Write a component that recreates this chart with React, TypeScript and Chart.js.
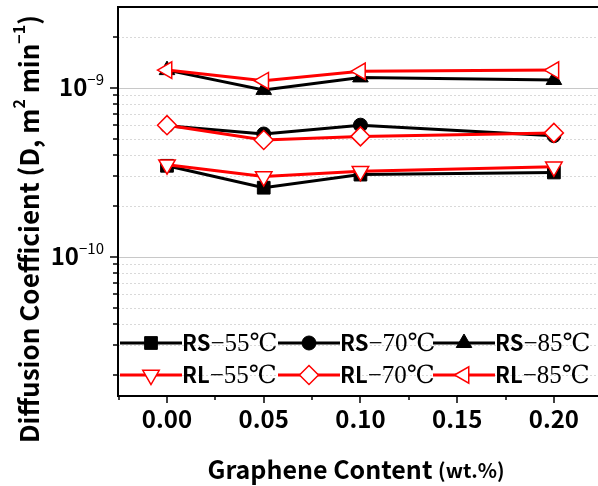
import React, { useEffect, useRef } from 'react';
import { Chart, registerables } from 'chart.js';

Chart.register(...registerables);

// ---- data ----
const xValues = [0, 0.05, 0.1, 0.2];
const rs55 = [3.45e-10, 2.56e-10, 3.06e-10, 3.15e-10];
const rs70 = [5.96e-10, 5.32e-10, 6.0e-10, 5.2e-10];
const rs85 = [1.27e-9, 0.97e-9, 1.15e-9, 1.11e-9];
const rl55 = [3.5e-10, 2.98e-10, 3.2e-10, 3.4e-10];
const rl70 = [6.0e-10, 4.9e-10, 5.15e-10, 5.4e-10];
const rl85 = [1.27e-9, 1.1e-9, 1.25e-9, 1.27e-9];

const seriesNames = ['RS', 'RS', 'RS', 'RL', 'RL', 'RL'];
const seriesTemps = ['−55℃', '−70℃', '−85℃', '−55℃', '−70℃', '−85℃'];

const xMajorTicks = [0, 0.05, 0.1, 0.15, 0.2];
const xMajorLabels = ['0.00', '0.05', '0.10', '0.15', '0.20'];
const xMinorTicks = [-0.025, 0.025, 0.075, 0.125, 0.175, 0.225];
const yMajorTicks = [1e-10, 1e-9];
const yMajorExp = ['−10', '−9'];
const yMinorTicks = [
  2e-11, 3e-11, 4e-11, 5e-11, 6e-11, 7e-11, 8e-11, 9e-11,
  2e-10, 3e-10, 4e-10, 5e-10, 6e-10, 7e-10, 8e-10, 9e-10,
  2e-9,
];

const xMin = -0.02533;
const xMax = 0.2228;
const yMin = 1.5e-11;
const yMax = 3.0e-9;

const xTitleMain = 'Graphene Content ';
const xTitleUnit = '(wt.%)';

const SANS = "'Noto Sans CJK KR', 'Noto Sans', 'DejaVu Sans', sans-serif";
const SERIF = "'Liberation Serif', 'DejaVu Serif', serif";

type Marker = { style: string; rotation: number; radius: number; fill: string; stroke: string; lw: number };

const markers: Marker[] = [
  { style: 'rect', rotation: 0, radius: 9, fill: '#000', stroke: '#000', lw: 1 },
  { style: 'circle', rotation: 0, radius: 7, fill: '#000', stroke: '#000', lw: 1 },
  { style: 'triangle', rotation: 0, radius: 9, fill: '#000', stroke: '#000', lw: 1 },
  { style: 'triangle', rotation: 180, radius: 9.5, fill: '#fff', stroke: '#ff0000', lw: 1.5 },
  { style: 'rectRot', rotation: 0, radius: 9.5, fill: '#fff', stroke: '#ff0000', lw: 1.5 },
  { style: 'triangle', rotation: 270, radius: 9.5, fill: '#fff', stroke: '#ff0000', lw: 1.5 },
];

function drawMarker(ctx: CanvasRenderingContext2D, m: Marker, x: number, y: number) {
  ctx.save();
  ctx.beginPath();
  const r = m.radius;
  if (m.style === 'rect') {
    const s = Math.SQRT1_2 * r;
    ctx.rect(x - s, y - s, 2 * s, 2 * s);
  } else if (m.style === 'circle') {
    ctx.arc(x, y, r, 0, Math.PI * 2);
  } else if (m.style === 'rectRot') {
    ctx.moveTo(x, y - r);
    ctx.lineTo(x + r, y);
    ctx.lineTo(x, y + r);
    ctx.lineTo(x - r, y);
    ctx.closePath();
  } else {
    let rad = (m.rotation * Math.PI) / 180;
    for (let i = 0; i < 3; i++) {
      const px = x + Math.sin(rad) * r;
      const py = y - Math.cos(rad) * r;
      if (i === 0) ctx.moveTo(px, py);
      else ctx.lineTo(px, py);
      rad += (2 * Math.PI) / 3;
    }
    ctx.closePath();
  }
  ctx.fillStyle = m.fill;
  ctx.fill();
  ctx.lineWidth = m.lw;
  ctx.strokeStyle = m.stroke;
  ctx.stroke();
  ctx.restore();
}

const gridPlugin = {
  id: 'customGrid',
  beforeDatasetsDraw(chart: any) {
    const ctx: CanvasRenderingContext2D = chart.ctx;
    const { left, right } = chart.chartArea;
    const y = chart.scales.y;
    ctx.save();
    ctx.lineWidth = 1;
    ctx.strokeStyle = '#d9d9d9';
    ctx.setLineDash([2, 2]);
    yMinorTicks.forEach((v) => {
      const py = Math.round(y.getPixelForValue(v)) + 0.5;
      ctx.beginPath();
      ctx.moveTo(left, py);
      ctx.lineTo(right, py);
      ctx.stroke();
    });
    ctx.setLineDash([]);
    ctx.strokeStyle = '#c8c8c8';
    yMajorTicks.forEach((v) => {
      const py = Math.round(y.getPixelForValue(v)) + 0.5;
      ctx.beginPath();
      ctx.moveTo(left, py);
      ctx.lineTo(right, py);
      ctx.stroke();
    });
    ctx.restore();
  },
};

const axesPlugin = {
  id: 'customAxes',
  afterDraw(chart: any) {
    const ctx: CanvasRenderingContext2D = chart.ctx;
    const { left, right, top, bottom } = chart.chartArea;
    const xs = chart.scales.x;
    const ys = chart.scales.y;
    ctx.save();
    // frame
    ctx.strokeStyle = '#000';
    ctx.lineWidth = 2;
    ctx.beginPath();
    ctx.moveTo(right, top);
    ctx.lineTo(left, top);
    ctx.lineTo(left, bottom);
    ctx.lineTo(right, bottom);
    ctx.stroke();
    ctx.lineWidth = 1.5;
    // x ticks
    xMajorTicks.forEach((v) => {
      const px = Math.round(xs.getPixelForValue(v));
      ctx.beginPath();
      ctx.moveTo(px, bottom);
      ctx.lineTo(px, bottom + 7);
      ctx.stroke();
    });
    xMinorTicks.forEach((v) => {
      const px = Math.round(xs.getPixelForValue(v));
      if (px < left || px > right) return;
      ctx.beginPath();
      ctx.moveTo(px, bottom);
      ctx.lineTo(px, bottom + 4);
      ctx.stroke();
    });
    // y ticks
    yMajorTicks.forEach((v) => {
      const py = Math.round(ys.getPixelForValue(v));
      ctx.beginPath();
      ctx.moveTo(left, py);
      ctx.lineTo(left - 8, py);
      ctx.stroke();
    });
    yMinorTicks.forEach((v) => {
      const py = Math.round(ys.getPixelForValue(v));
      ctx.beginPath();
      ctx.moveTo(left, py);
      ctx.lineTo(left - 5, py);
      ctx.stroke();
    });
    // x tick labels
    ctx.fillStyle = '#000';
    ctx.font = `bold 24px ${SANS}`;
    ctx.textAlign = 'center';
    ctx.textBaseline = 'middle';
    xMajorTicks.forEach((v, i) => {
      const px = xs.getPixelForValue(v);
      ctx.fillText(xMajorLabels[i], px, bottom + 23);
    });
    // y tick labels: 10 with superscript
    yMajorTicks.forEach((v, i) => {
      const py = ys.getPixelForValue(v);
      ctx.font = `15px ${SANS}`;
      ctx.textAlign = 'right';
      ctx.textBaseline = 'middle';
      const expW = ctx.measureText(yMajorExp[i]).width;
      const xr = left - 14;
      ctx.fillText(yMajorExp[i], xr, py - 8);
      ctx.font = `bold 24px ${SANS}`;
      ctx.fillText('10', xr - expW, py - 1);
    });
    // x title
    ctx.textBaseline = 'middle';
    ctx.textAlign = 'left';
    ctx.font = `bold 25px ${SANS}`;
    const w1 = ctx.measureText(xTitleMain).width;
    ctx.font = `bold 20px ${SANS}`;
    const w2 = ctx.measureText(xTitleUnit).width;
    const cx = 356;
    const tx = cx - (w1 + w2) / 2;
    ctx.font = `bold 25px ${SANS}`;
    ctx.fillText(xTitleMain, tx, 469);
    ctx.font = `bold 20px ${SANS}`;
    ctx.fillText(xTitleUnit, tx + w1, 470);
    // y title
    ctx.save();
    ctx.translate(29, 229);
    ctx.rotate(-Math.PI / 2);
    const parts: [string, string, number][] = [
      ['Diffusion Coefficient (D, m', `bold 26px ${SANS}`, 0],
      ['2', `bold 16px ${SANS}`, -10],
      [' min', `bold 26px ${SANS}`, 0],
      ['−1', `bold 16px ${SANS}`, -10],
      [')', `bold 26px ${SANS}`, 0],
    ];
    let total = 0;
    parts.forEach(([t, f]) => {
      ctx.font = f;
      total += ctx.measureText(t).width;
    });
    let ox = -total / 2;
    ctx.textAlign = 'left';
    parts.forEach(([t, f, dy]) => {
      ctx.font = f;
      ctx.fillText(t, ox, dy);
      ox += ctx.measureText(t).width;
    });
    ctx.restore();

    // legend
    const rows = [343, 375];
    const lineStarts = [120, 278, 433];
    const lineLen = 62;
    for (let i = 0; i < 6; i++) {
      const row = Math.floor(i / 3);
      const col = i % 3;
      const y = rows[row];
      const x0 = lineStarts[col];
      const color = row === 0 ? '#000' : '#ff0000';
      ctx.strokeStyle = color;
      ctx.lineWidth = 3;
      ctx.beginPath();
      ctx.moveTo(x0, y);
      ctx.lineTo(x0 + lineLen, y);
      ctx.stroke();
      drawMarker(ctx, markers[i], x0 + lineLen / 2, y);
      ctx.fillStyle = '#000';
      ctx.textAlign = 'left';
      ctx.textBaseline = 'middle';
      ctx.font = `bold 22px ${SANS}`;
      const nx = x0 + lineLen;
      ctx.fillText(seriesNames[i], nx, y);
      const nw = ctx.measureText(seriesNames[i]).width;
      ctx.font = `25px ${SERIF}`;
      ctx.fillText(seriesTemps[i], nx + nw, y + 1);
    }
    ctx.restore();
  },
};

function makeDataset(label: string, data: number[], m: Marker, color: string, order: number) {
  return {
    label,
    data: xValues.map((x, i) => ({ x, y: data[i] })),
    borderColor: color,
    borderWidth: 3,
    backgroundColor: m.fill,
    pointStyle: m.style,
    pointRotation: m.rotation,
    pointRadius: m.radius,
    pointBackgroundColor: m.fill,
    pointBorderColor: m.stroke,
    pointBorderWidth: m.lw,
    fill: false,
    tension: 0,
    order,
  };
}

export default function App() {
  const ref = useRef<HTMLCanvasElement | null>(null);
  document.body.style.margin = '0';
  useEffect(() => {
    document.body.style.margin = '0';
    document.body.style.overflow = 'hidden';
    const canvas = ref.current;
    if (!canvas) return;
    const chart = new Chart(canvas, {
      type: 'line',
      data: {
        datasets: [
          makeDataset('RL-55', rl55, markers[3], '#ff0000', 0),
          makeDataset('RL-70', rl70, markers[4], '#ff0000', 0),
          makeDataset('RL-85', rl85, markers[5], '#ff0000', 0),
          makeDataset('RS-55', rs55, markers[0], '#000000', 1),
          makeDataset('RS-70', rs70, markers[1], '#000000', 1),
          makeDataset('RS-85', rs85, markers[2], '#000000', 1),
        ] as any,
      },
      options: {
        animation: false,
        responsive: false,
        devicePixelRatio: 1,
        layout: { autoPadding: false, padding: { left: 118, top: 7, right: 0, bottom: 90 } },
        plugins: { legend: { display: false }, tooltip: { enabled: false } },
        scales: {
          x: { type: 'linear', min: xMin, max: xMax, display: false },
          y: { type: 'logarithmic', min: yMin, max: yMax, display: false },
        },
      },
      plugins: [gridPlugin, axesPlugin],
    });
    return () => chart.destroy();
  }, []);
  return (
    <div style={{ width: 598, height: 486, background: '#fff' }}>
      <canvas ref={ref} width={598} height={486} style={{ display: 'block' }} />
    </div>
  );
}
